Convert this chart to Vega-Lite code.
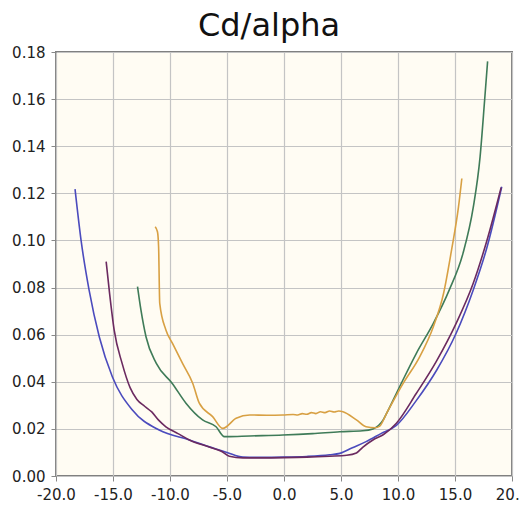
{
  "$schema": "https://vega.github.io/schema/vega-lite/v6.json",
  "autosize": {"type": "none"},
  "padding": {"left": 56, "top": 52, "right": 8, "bottom": 37},
  "width": 456,
  "height": 424,
  "background": "white",
  "title": {"text": "Cd/alpha", "font": "DejaVu Sans", "fontSize": 32, "fontWeight": "normal", "color": "#111", "anchor": "middle", "dx": -15, "offset": 2},
  "config": {
    "view": {"fill": "#fffcf3", "stroke": "#808080", "strokeWidth": 2},
    "axis": {"labelFont": "DejaVu Sans", "labelFontSize": 15, "labelColor": "#222", "gridColor": "#c4c4c4", "gridWidth": 1.2, "tickColor": "#888", "tickSize": 5, "domain": false, "title": null}
  },
  "data": {"values": [
    {"s":"B","x":-18.33,"y":0.1218},{"s":"B","x":-17.8,"y":0.100},{"s":"B","x":-17.1,"y":0.079},{"s":"B","x":-16.2,"y":0.059},{"s":"B","x":-15.05,"y":0.042},{"s":"B","x":-13.3,"y":0.028},{"s":"B","x":-10.95,"y":0.0195},{"s":"B","x":-8.3,"y":0.0153},{"s":"B","x":-5.67,"y":0.011},{"s":"B","x":-5.0,"y":0.0100},{"s":"B","x":-3.6,"y":0.0080},{"s":"B","x":-2,"y":0.0079},{"s":"B","x":0,"y":0.0080},{"s":"B","x":2,"y":0.0083},{"s":"B","x":4,"y":0.0090},{"s":"B","x":4.9,"y":0.0096},{"s":"B","x":6,"y":0.0120},{"s":"B","x":7.2,"y":0.0146},{"s":"B","x":8.5,"y":0.0180},{"s":"B","x":9.86,"y":0.0215},{"s":"B","x":11.6,"y":0.032},{"s":"B","x":13.4,"y":0.045},{"s":"B","x":15.1,"y":0.0606},{"s":"B","x":16.6,"y":0.079},{"s":"B","x":17.8,"y":0.097},{"s":"B","x":19.1,"y":0.1228},
    {"s":"P","x":-15.6,"y":0.091},{"s":"P","x":-15.3,"y":0.0775},{"s":"P","x":-14.9,"y":0.062},{"s":"P","x":-14.2,"y":0.0478},{"s":"P","x":-13.5,"y":0.0375},{"s":"P","x":-12.9,"y":0.0325},{"s":"P","x":-12.2,"y":0.0295},{"s":"P","x":-11.6,"y":0.0272},{"s":"P","x":-11.0,"y":0.0237},{"s":"P","x":-10.36,"y":0.0209},{"s":"P","x":-9.3,"y":0.018},{"s":"P","x":-8.3,"y":0.0153},{"s":"P","x":-6.5,"y":0.0122},{"s":"P","x":-5.5,"y":0.0105},{"s":"P","x":-4.8,"y":0.0084},{"s":"P","x":-3.6,"y":0.0077},{"s":"P","x":-2,"y":0.0077},{"s":"P","x":0,"y":0.0078},{"s":"P","x":2,"y":0.0080},{"s":"P","x":4,"y":0.0084},{"s":"P","x":5.5,"y":0.0088},{"s":"P","x":6.35,"y":0.0098},{"s":"P","x":6.9,"y":0.0122},{"s":"P","x":7.8,"y":0.0153},{"s":"P","x":8.7,"y":0.0175},{"s":"P","x":9.86,"y":0.0224},{"s":"P","x":11.6,"y":0.035},{"s":"P","x":13.4,"y":0.049},{"s":"P","x":15.1,"y":0.0648},{"s":"P","x":16.6,"y":0.0818},{"s":"P","x":17.8,"y":0.100},{"s":"P","x":19.05,"y":0.1225},
    {"s":"G","x":-12.85,"y":0.0804},{"s":"G","x":-12.55,"y":0.0705},{"s":"G","x":-12.1,"y":0.059},{"s":"G","x":-11.2,"y":0.0478},{"s":"G","x":-9.8,"y":0.0393},{"s":"G","x":-8.6,"y":0.0309},{"s":"G","x":-7.14,"y":0.0238},{"s":"G","x":-5.96,"y":0.0209},{"s":"G","x":-5.23,"y":0.0167},{"s":"G","x":-5.0,"y":0.0167},{"s":"G","x":-3,"y":0.0170},{"s":"G","x":-0.1,"y":0.0174},{"s":"G","x":2.5,"y":0.0180},{"s":"G","x":4.9,"y":0.0188},{"s":"G","x":6.9,"y":0.0192},{"s":"G","x":7.8,"y":0.0200},{"s":"G","x":8.7,"y":0.0238},{"s":"G","x":9.0,"y":0.0266},{"s":"G","x":10.15,"y":0.038},{"s":"G","x":11.6,"y":0.052},{"s":"G","x":13.1,"y":0.0648},{"s":"G","x":14.5,"y":0.079},{"s":"G","x":15.7,"y":0.0945},{"s":"G","x":16.6,"y":0.114},{"s":"G","x":17.2,"y":0.1355},{"s":"G","x":17.6,"y":0.1596},{"s":"G","x":17.86,"y":0.176},
    {"s":"Y","x":-11.3,"y":0.1058},{"s":"Y","x":-11.1,"y":0.1037},{"s":"Y","x":-11.0,"y":0.0973},{"s":"Y","x":-10.9,"y":0.0733},{"s":"Y","x":-10.36,"y":0.062},{"s":"Y","x":-9.78,"y":0.0563},{"s":"Y","x":-8.9,"y":0.0478},{"s":"Y","x":-8.0,"y":0.0393},{"s":"Y","x":-7.43,"y":0.0309},{"s":"Y","x":-6.26,"y":0.0252},{"s":"Y","x":-5.38,"y":0.0202},{"s":"Y","x":-4.2,"y":0.0245},{"s":"Y","x":-3.0,"y":0.0259},{"s":"Y","x":-1.5,"y":0.0258},{"s":"Y","x":-0.1,"y":0.0259},{"s":"Y","x":0.8,"y":0.0261},{"s":"Y","x":1.2,"y":0.0259},{"s":"Y","x":1.6,"y":0.0265},{"s":"Y","x":2.0,"y":0.0262},{"s":"Y","x":2.4,"y":0.0269},{"s":"Y","x":2.8,"y":0.0265},{"s":"Y","x":3.2,"y":0.0273},{"s":"Y","x":3.6,"y":0.0269},{"s":"Y","x":4.0,"y":0.0276},{"s":"Y","x":4.4,"y":0.0272},{"s":"Y","x":4.8,"y":0.0276},{"s":"Y","x":5.17,"y":0.0273},{"s":"Y","x":6.35,"y":0.0238},{"s":"Y","x":7.2,"y":0.0209},{"s":"Y","x":8.0,"y":0.0205},{"s":"Y","x":8.4,"y":0.0212},{"s":"Y","x":9.0,"y":0.0266},{"s":"Y","x":10.45,"y":0.0393},{"s":"Y","x":11.9,"y":0.0506},{"s":"Y","x":13.1,"y":0.0634},{"s":"Y","x":14.0,"y":0.0776},{"s":"Y","x":14.7,"y":0.096},{"s":"Y","x":15.3,"y":0.114},{"s":"Y","x":15.6,"y":0.1263}
  ]},
  "mark": {"type": "line", "strokeWidth": 1.6, "interpolate": "monotone", "clip": true},
  "encoding": {
    "x": {"field": "x", "type": "quantitative", "scale": {"domain": [-20, 20], "nice": false, "zero": false}, "axis": {"values": [-20, -15, -10, -5, 0, 5, 10, 15, 20], "labelExpr": "(datum.value < 0 ? '-' : '') + format(abs(datum.value), '.1f')", "labelPadding": 6, "labelOverlap": false, "labelFlush": false}},
    "y": {"field": "y", "type": "quantitative", "scale": {"domain": [0, 0.18], "nice": false}, "axis": {"values": [0, 0.02, 0.04, 0.06, 0.08, 0.1, 0.12, 0.14, 0.16, 0.18], "format": ".2f", "labelPadding": 6}},
    "color": {"field": "s", "type": "nominal", "scale": {"domain": ["B", "P", "G", "Y"], "range": ["#4b4bbd", "#6b2a60", "#3f7b58", "#d8a043"]}, "legend": null},
    "order": {"field": "x", "type": "quantitative"}
  }
}
